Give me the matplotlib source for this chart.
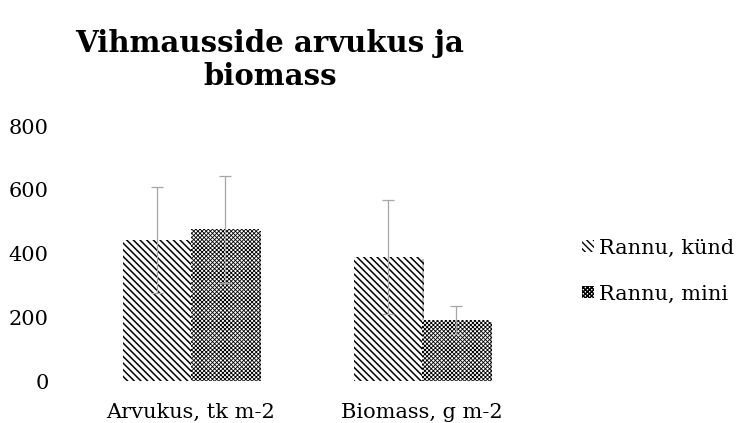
import numpy as np
import matplotlib.pyplot as plt
from matplotlib.patches import Patch
import matplotlib.patheffects as pe

## Chart data
categories = ['Arvukus, tk m-2', 'Biomass, g m-2']
series_names = ['Rannu, künd', 'Rannu, mini']
kund_vals = [442, 389]
mini_vals = [476, 191]
kund_err = [166, 178]
mini_err = [167, 44]
y_ticks = [0, 200, 400, 600, 800]

serif = ['DejaVu Serif']
hatch_kund = '\\\\\\\\\\'
hatch_mini = 'xxxxxxxx'

fig = plt.figure(figsize=(7.36, 4.23), dpi=100)
ax = fig.add_axes([75/736, 42/423, 463/736, 255/423])

x = np.arange(len(categories))
w = 0.294
shadow = [pe.SimplePatchShadow(offset=(1.5, -1.5), shadow_rgbFace='#888888', alpha=0.5), pe.Normal()]

with plt.rc_context({'hatch.linewidth': 1.1}):
    b1 = ax.bar(x - w/2, kund_vals, w, color='white', edgecolor='black', hatch=hatch_kund, linewidth=0, zorder=2)
    h1 = Patch(facecolor='white', edgecolor='black', hatch=hatch_kund, linewidth=0)
with plt.rc_context({'hatch.linewidth': 0.6}):
    b2 = ax.bar(x + w/2, mini_vals, w, color='white', edgecolor='black', hatch=hatch_mini, linewidth=0, zorder=2)
    h2 = Patch(facecolor='white', edgecolor='black', hatch=hatch_mini, linewidth=0)
for b in list(b1) + list(b2):
    b.set_path_effects(shadow)

ax.errorbar(x - w/2, kund_vals, yerr=kund_err, fmt='none', ecolor='#a6a6a6', elinewidth=0.9, capsize=4, capthick=0.9, zorder=3)
ax.errorbar(x + w/2, mini_vals, yerr=mini_err, fmt='none', ecolor='#a6a6a6', elinewidth=0.9, capsize=4, capthick=0.9, zorder=3)

ax.set_xlim(-0.5, 1.5)
ax.set_ylim(0, 800)
ax.set_yticks(y_ticks)
ax.set_xticks(x)
ax.set_xticklabels(categories, fontsize=15, family=serif)
ax.set_yticklabels([str(v) for v in y_ticks], fontsize=15, family=serif)
ax.tick_params(axis='y', length=0, pad=19)
ax.tick_params(axis='x', length=0, pad=16)
for s in ax.spines.values():
    s.set_visible(False)

fig.text(270/736, 1 - 60/423, 'Vihmausside arvukus ja\nbiomass', ha='center', va='center',
         fontsize=21, fontweight='bold', family=serif, linespacing=1.2)

fig.legend([h1, h2], series_names, loc='center left', bbox_to_anchor=(572/736, 1 - 271/423),
           frameon=False, prop={'family': serif, 'size': 15}, handlelength=0.55, handleheight=0.55,
           handletextpad=0.25, labelspacing=1.3, borderpad=0)

fig.savefig('out.png', dpi=100)
